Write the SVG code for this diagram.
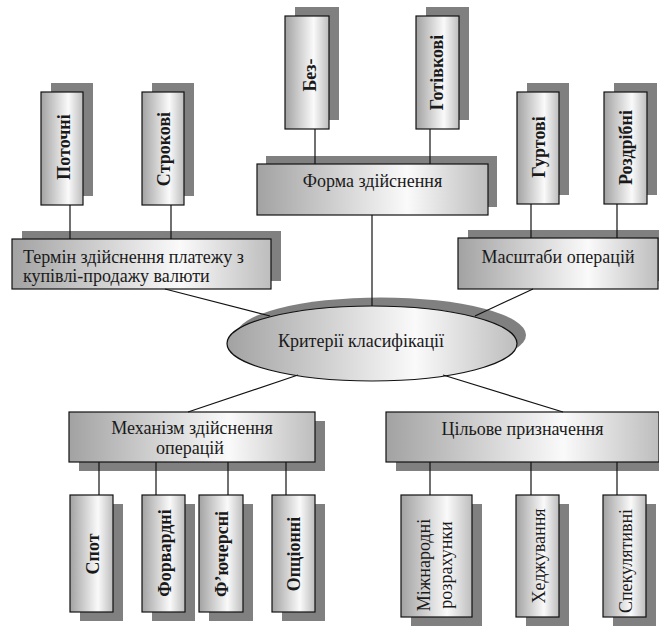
<svg xmlns="http://www.w3.org/2000/svg" width="659" height="626" viewBox="0 0 659 626">
<defs>
<linearGradient id="g" x1="0" y1="0" x2="1" y2="0">
<stop offset="0" stop-color="#a2a2a2"/>
<stop offset="0.65" stop-color="#fafafa"/>
<stop offset="1" stop-color="#bdbdbd"/>
</linearGradient>
</defs>
<style>
.sh{fill:#808080;stroke:none}
.bx{fill:url(#g);stroke:#111;stroke-width:1.2}
.t{font-family:"Liberation Serif","Times New Roman",serif;font-size:18px;fill:#1a1a1a}
.c{text-anchor:middle}
.b{font-weight:bold}
.ln{stroke:#111;stroke-width:1.2;fill:none}
</style>
<rect width="659" height="626" fill="#fff"/>

<g id="n-potochni"><rect class="sh" x="51" y="83" width="42" height="113"/><rect class="bx" x="41" y="92" width="42" height="113"/><text class="t c b" transform="translate(70,147) rotate(-90)">Поточні</text></g>
<g id="n-strokovi"><rect class="sh" x="152" y="83" width="42" height="113"/><rect class="bx" x="142" y="92" width="42" height="113"/><text class="t c b" transform="translate(170,149) rotate(-90)">Строкові</text></g>
<g id="n-bez"><rect class="sh" x="295" y="7" width="44" height="113"/><rect class="bx" x="285" y="16" width="44" height="113"/><text class="t c b" transform="translate(316,75) rotate(-90)">Без-</text></g>
<g id="n-gotivkovi"><rect class="sh" x="426" y="7" width="43" height="113"/><rect class="bx" x="416" y="16" width="43" height="113"/><text class="t c b" transform="translate(443,72.5) rotate(-90)">Готівкові</text></g>
<g id="n-gurtovi"><rect class="sh" x="527" y="83" width="42" height="112"/><rect class="bx" x="517" y="92" width="42" height="112"/><text class="t c b" transform="translate(545,147) rotate(-90)">Гуртові</text></g>
<g id="n-rozdribni"><rect class="sh" x="614" y="83" width="43" height="112"/><rect class="bx" x="604" y="92" width="43" height="112"/><text class="t c b" transform="translate(632,147.5) rotate(-90)">Роздрібні</text></g>

<g id="n-termin"><rect class="sh" x="22" y="231" width="259" height="50"/><rect class="bx" x="12" y="239" width="259" height="50"/><text class="t" x="23" y="263">Термін здійснення платежу з</text><text class="t" x="23" y="282">купівлі-продажу валюти</text></g>
<g id="n-forma"><rect class="sh" x="266" y="156" width="231" height="51"/><rect class="bx" x="257" y="164" width="231" height="51"/><text class="t c" x="372.5" y="187">Форма здійснення</text></g>
<g id="n-masshtaby"><rect class="sh" x="468" y="230" width="200" height="51"/><rect class="bx" x="458" y="238" width="200" height="51"/><text class="t c" x="558" y="263">Масштаби операцій</text></g>

<g id="n-kryterii"><ellipse class="sh" cx="381" cy="335" rx="145" ry="37.5"/><ellipse class="bx" cx="372" cy="343.5" rx="145" ry="37.5"/><text class="t c" x="361" y="347">Критерії класифікації</text></g>

<g id="n-mekhanizm"><rect class="sh" x="79" y="421" width="246" height="50"/><rect class="bx" x="69" y="412" width="246" height="50"/><text class="t c" x="192" y="434">Механізм здійснення</text><text class="t c" x="190" y="454">операцій</text></g>
<g id="n-tsilove"><rect class="sh" x="396" y="421" width="273" height="50"/><rect class="bx" x="386" y="412" width="273" height="50"/><text class="t c" x="522.5" y="435">Цільове призначення</text></g>

<g id="n-spot"><rect class="sh" x="80" y="504" width="43" height="117"/><rect class="bx" x="70" y="495" width="43" height="117"/><text class="t c b" transform="translate(99,554) rotate(-90)">Спот</text></g>
<g id="n-forvardni"><rect class="sh" x="152" y="504" width="43" height="117"/><rect class="bx" x="142" y="495" width="43" height="117"/><text class="t c b" transform="translate(171,553) rotate(-90)">Форвардні</text></g>
<g id="n-fyuchersni"><rect class="sh" x="209" y="504" width="44" height="117"/><rect class="bx" x="199" y="495" width="44" height="117"/><text class="t c b" transform="translate(228,554) rotate(-90)">Ф’ючерсні</text></g>
<g id="n-optsionni"><rect class="sh" x="282" y="504" width="43" height="117"/><rect class="bx" x="272" y="495" width="43" height="117"/><text class="t c b" transform="translate(300,554) rotate(-90)">Опціонні</text></g>

<g id="n-mizhnarodni"><rect class="sh" x="411" y="504" width="71" height="122"/><rect class="bx" x="401" y="495" width="71" height="122"/><text class="t c" transform="translate(430,565) rotate(-90)">Міжнародні</text><text class="t c" transform="translate(452,565) rotate(-90)">розрахунки</text></g>
<g id="n-khedzhuvannia"><rect class="sh" x="526" y="504" width="43" height="122"/><rect class="bx" x="516" y="495" width="43" height="122"/><text class="t c" transform="translate(545,556) rotate(-90)">Хеджування</text></g>
<g id="n-spekuliatyvni"><rect class="sh" x="613" y="504" width="43" height="122"/><rect class="bx" x="603" y="495" width="43" height="122"/><text class="t c" transform="translate(632,561) rotate(-90)">Спекулятивні</text></g>

<g id="connectors" class="ln">
<line x1="70" y1="205" x2="70" y2="239"/>
<line x1="171" y1="205" x2="171" y2="239"/>
<line x1="315" y1="129" x2="315" y2="164"/>
<line x1="430" y1="129" x2="430" y2="164"/>
<line x1="531" y1="204" x2="531" y2="238"/>
<line x1="617" y1="204" x2="617" y2="238"/>
<line x1="372" y1="215" x2="372" y2="306"/>
<line x1="165" y1="289" x2="270" y2="316"/>
<line x1="533" y1="289" x2="475" y2="316"/>
<line x1="298" y1="375" x2="188" y2="412"/>
<line x1="443" y1="375" x2="563" y2="412"/>
<line x1="99" y1="462" x2="99" y2="495"/>
<line x1="156" y1="462" x2="156" y2="495"/>
<line x1="228" y1="462" x2="228" y2="495"/>
<line x1="286" y1="462" x2="286" y2="495"/>
<line x1="430" y1="462" x2="430" y2="495"/>
<line x1="531" y1="462" x2="531" y2="495"/>
<line x1="617" y1="462" x2="617" y2="495"/>
</g>
</svg>
